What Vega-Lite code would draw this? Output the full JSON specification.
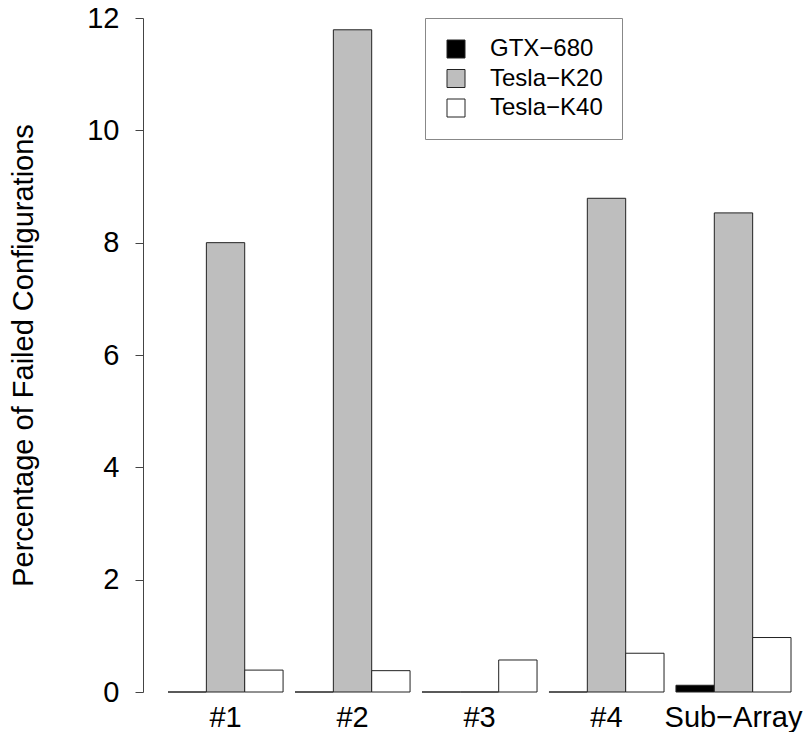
{
  "$schema": "https://vega.github.io/schema/vega-lite/v6.json",
  "autosize": "none",
  "width": 660,
  "height": 674,
  "padding": {"left": 143, "top": 18, "right": 0, "bottom": 40},
  "background": "white",
  "config": {
    "view": {"stroke": null},
    "font": "Liberation Sans"
  },
  "data": {
    "values": [
      {"group": "#1", "gpu": "GTX−680", "value": 0},
      {"group": "#1", "gpu": "Tesla−K20", "value": 8.0},
      {"group": "#1", "gpu": "Tesla−K40", "value": 0.39},
      {"group": "#2", "gpu": "GTX−680", "value": 0},
      {"group": "#2", "gpu": "Tesla−K20", "value": 11.79},
      {"group": "#2", "gpu": "Tesla−K40", "value": 0.38},
      {"group": "#3", "gpu": "GTX−680", "value": 0},
      {"group": "#3", "gpu": "Tesla−K20", "value": 0},
      {"group": "#3", "gpu": "Tesla−K40", "value": 0.57},
      {"group": "#4", "gpu": "GTX−680", "value": 0},
      {"group": "#4", "gpu": "Tesla−K20", "value": 8.79},
      {"group": "#4", "gpu": "Tesla−K40", "value": 0.69},
      {"group": "Sub−Array", "gpu": "GTX−680", "value": 0.12},
      {"group": "Sub−Array", "gpu": "Tesla−K20", "value": 8.53},
      {"group": "Sub−Array", "gpu": "Tesla−K40", "value": 0.97}
    ]
  },
  "mark": {"type": "bar", "stroke": "#222222", "strokeWidth": 1},
  "encoding": {
    "x": {
      "field": "group",
      "type": "nominal",
      "sort": ["#1", "#2", "#3", "#4", "Sub−Array"],
      "scale": {"paddingInner": 0.094, "paddingOuter": 0.1457, "align": 0.676},
      "axis": {
        "title": null,
        "domain": false,
        "ticks": false,
        "labelAngle": 0,
        "labelFontSize": 29,
        "labelPadding": 11,
        "labelColor": "#000000"
      }
    },
    "xOffset": {
      "field": "gpu",
      "type": "nominal",
      "sort": ["GTX−680", "Tesla−K20", "Tesla−K40"],
      "scale": {"paddingInner": 0, "paddingOuter": 0}
    },
    "y": {
      "field": "value",
      "type": "quantitative",
      "scale": {"domain": [0, 12], "nice": false},
      "axis": {
        "values": [0, 2, 4, 6, 8, 10, 12],
        "grid": false,
        "tickSize": 8,
        "tickColor": "#444444",
        "domainColor": "#444444",
        "labelPadding": 16,
        "labelFontSize": 29,
        "labelColor": "#000000",
        "title": "Percentage of Failed Configurations",
        "titleFontSize": 29,
        "titleFontWeight": "normal",
        "titleColor": "#000000",
        "titlePadding": 48
      }
    },
    "color": {
      "field": "gpu",
      "type": "nominal",
      "scale": {
        "domain": ["GTX−680", "Tesla−K20", "Tesla−K40"],
        "range": ["#000000", "#bebebe", "#ffffff"]
      },
      "legend": {
        "title": null,
        "orient": "none",
        "legendX": 282,
        "legendY": 0,
        "padding": 19,
        "strokeColor": "#888888",
        "fillColor": "white",
        "symbolType": "square",
        "symbolSize": 324,
        "symbolStrokeColor": "#222222",
        "symbolStrokeWidth": 1,
        "symbolOpacity": 1,
        "labelFontSize": 24,
        "labelColor": "#000000",
        "labelOffset": 22,
        "rowPadding": 5.5,
        "labelLimit": 300
      }
    }
  }
}
